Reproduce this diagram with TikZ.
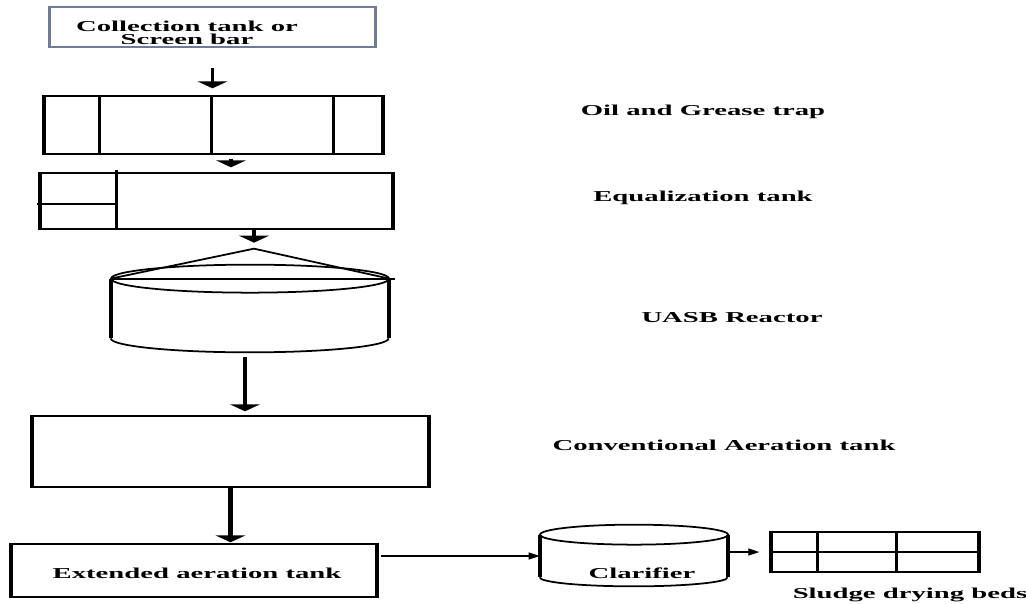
\documentclass[tikz,border=0pt]{standalone}
\usepackage{fontspec}
\setmainfont{Liberation Serif}
\usetikzlibrary{arrows.meta}
\definecolor{collline}{RGB}{112,124,148}
\newcommand{\wide}[1]{\scalebox{1.9}[1]{#1}}

\begin{document}
\begin{tikzpicture}[x=0.02cm,y=-0.02cm,
  tank/.style={draw,line width=0.8pt,inner sep=0pt},
  side/.style={line width=2.2pt},
  lbl/.style={font=\fontsize{8.6}{7.4}\selectfont\bfseries,inner sep=0pt,align=center},
  flow/.style={line width=1.8pt,-{Triangle[width=0.6cm,length=0.14cm]}},
  feed/.style={line width=0.7pt,-{Triangle[width=0.14cm,length=0.22cm]}}]

  \useasboundingbox (0,0) rectangle (1026,604);

  \draw (212.5,27) node[tank,draw=collline,minimum width=6.5cm,minimum height=0.8cm] (coll) {};
  \draw (213.5,125) node[tank,minimum width=6.74cm,minimum height=1.16cm] (trap) {};
  \draw (216.5,201) node[tank,minimum width=7.02cm,minimum height=1.12cm] (eq) {};
  \draw (250,308.5) node[minimum width=5.56cm,minimum height=1.18cm,inner sep=0pt] (uasb) {};
  \draw (230.5,451.5) node[tank,minimum width=7.9cm,minimum height=1.42cm] (conv) {};
  \draw (194,570.5) node[tank,minimum width=7.28cm,minimum height=1.06cm] (ext) {};
  \draw (634,556) node[minimum width=3.76cm,minimum height=0.84cm,inner sep=0pt] (clar) {};
  \draw (875,552) node[tank,minimum width=4.12cm,minimum height=0.8cm] (beds) {};

  % heavy end walls
  \foreach \n in {trap,eq,conv,ext,beds}
    \draw[side] (\n.north west) -- (\n.south west) (\n.north east) -- (\n.south east);
  \draw[collline,line width=1.3pt] (coll.north west) -- (coll.south west) (coll.north east) -- (coll.south east);

  % trap baffles
  \foreach \d in {1.1,3.34,5.78}
    \draw[line width=1.4pt] ([xshift=\d cm]trap.north west) -- ([xshift=\d cm]trap.south west);

  % equalization inlet
  \draw[line width=1.4pt] ([xshift=1.52cm,yshift=0.04cm]eq.north west) -- ([xshift=1.52cm]eq.south west);
  \draw[line width=0.8pt] ([xshift=-0.06cm,yshift=-0.06cm]eq.west) -- ([xshift=1.52cm,yshift=-0.06cm]eq.west);

  % UASB reactor
  \draw[line width=1pt] (uasb.north) ellipse [x radius=2.78cm,y radius=0.28cm];
  \draw[side] (uasb.north west) -- (uasb.south west) (uasb.north east) -- (uasb.south east);
  \draw[line width=1pt] (uasb.south west) arc[start angle=180,end angle=360,x radius=2.78cm,y radius=0.28cm];
  \coordinate (apex) at ([xshift=0.08cm,yshift=0.6cm]uasb.north);
  \draw[line width=1pt] (uasb.north west) -- (apex) -- (uasb.north east);
  \draw[line width=1pt] (uasb.north west) -- ([xshift=0.12cm]uasb.north east);

  % clarifier
  \draw[line width=1pt] (clar.north) ellipse [x radius=1.88cm,y radius=0.2cm];
  \draw[side] (clar.north west) -- (clar.south west) (clar.north east) -- (clar.south east);
  \draw[line width=1pt] (clar.south west) arc[start angle=180,end angle=360,x radius=1.88cm,y radius=0.18cm];

  % drying bed cells
  \foreach \d in {0.92,2.5}
    \draw[line width=1.4pt] ([xshift=\d cm]beds.north west) -- ([xshift=\d cm]beds.south west);
  \draw[line width=0.8pt] (beds.west) -- (beds.east);

  % flow
  \coordinate (t2) at ([xshift=0.35cm]trap.south);
  \coordinate (u4) at ([xshift=-0.1cm]uasb.south);
  \draw[flow,shorten <=0.4cm,shorten >=0.14cm] (coll.south) -- (coll.south |- trap.north);
  \draw[flow,shorten <=0.08cm,shorten >=0.1cm] (t2) -- (t2 |- eq.north);
  \draw[flow,shorten >=0.12cm] (apex |- eq.south) -- (apex);
  \draw[flow,shorten <=0.38cm,shorten >=0.08cm] (u4) -- (u4 |- conv.north);
  \draw[flow,line width=2.4pt,shorten >=0.02cm] (conv.south) -- (conv.south |- ext.north);
  \draw[feed,shorten <=0.08cm] (ext.east |- clar.west) -- (clar.west);
  \draw[feed,shorten >=0.24cm] (clar.east |- beds.west) -- (beds.west);

  % texts
  \draw (187,32.5) node[lbl] (colltext) {\wide{Collection tank or}\\\wide{Screen bar}};
  \draw (197,573) node[lbl] (exttext) {\wide{Extended aeration tank}};
  \draw (642,573) node[lbl] (clartext) {\wide{Clarifier}};
  \draw (703,112) node[lbl] (traplbl) {\wide{Oil and Grease trap}};
  \draw (703,198) node[lbl] (eqlbl) {\wide{Equalization tank}};
  \draw (732,318) node[lbl] (uasblbl) {\wide{UASB Reactor}};
  \draw (724,445) node[lbl] (convlbl) {\wide{Conventional Aeration tank}};
  \draw (910,595) node[lbl] (bedslbl) {\wide{Sludge drying beds}};

\end{tikzpicture}
\end{document}
